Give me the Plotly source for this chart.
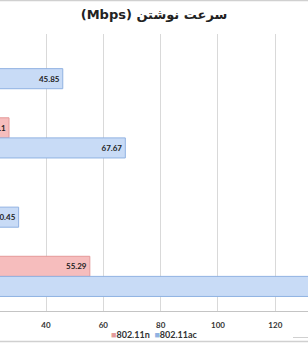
import plotly.graph_objects as go

# Data (category labels are off-screen to the left in the reference)
categories = ["A", "B", "C", "D"]
series_names = ["802.11n", "802.11ac"]
n_values = [20.1, 27.1, 15.3, 55.29]
ac_values = [45.85, 67.67, 30.45, 149.0]
x_ticks = [0, 20, 40, 60, 80, 100, 120, 140]
x_range = [23.95, 131.4]

red_fill = "#f6bdbd"
red_line = "#e49a9a"
blue_fill = "#c8dbf6"
blue_line = "#90b2e2"

FONT = "Lato, 'Liberation Sans', sans-serif"
label_font = dict(family=FONT, size=8, color="#1e1e1e")


def labels(values):
    # labels of bars that end outside the visible window are not drawn in the reference
    return [f"<b>{v:g}</b>" if x_range[0] < v < x_range[1] else "" for v in values]


fig = go.Figure()
fig.add_trace(go.Bar(
    y=categories, x=n_values, name=series_names[0], orientation="h",
    marker=dict(color=red_fill, line=dict(color=red_line, width=1)),
    text=labels(n_values), textposition="inside", insidetextanchor="end",
    textfont=label_font, showlegend=False,
))
fig.add_trace(go.Bar(
    y=categories, x=ac_values, name=series_names[1], orientation="h",
    marker=dict(color=blue_fill, line=dict(color=blue_line, width=1)),
    text=labels(ac_values), textposition="inside", insidetextanchor="end",
    textfont=label_font, showlegend=False,
))

legend_text = (
    f"<span style='color:{red_line}'>■</span><b>{series_names[0]}</b>"
    f"\u00a0\u00a0<span style='color:{blue_line}'>■</span><b>{series_names[1]}</b>"
)

fig.update_layout(
    width=308, height=344,
    margin=dict(l=0, r=0, t=34, b=33, pad=0),
    paper_bgcolor="white", plot_bgcolor="white",
    barmode="group", bargap=0.42, bargroupgap=0,
    uniformtext=dict(minsize=8, mode="show"),
    showlegend=False,
    title=dict(text="<b>(Mbps) سرعت نوشتن</b>", x=0.5, xanchor="center",
               y=1 - 14 / 344, yanchor="middle",
               font=dict(family="'DejaVu Sans', sans-serif", size=13, color="#222222")),
    xaxis=dict(range=x_range, tickvals=x_ticks,
               ticktext=[f"<b>{v}</b>" for v in x_ticks],
               showgrid=True, gridcolor="#d9d9d9", gridwidth=1,
               zeroline=False, showline=True, linecolor="#c4c4c4", linewidth=1,
               ticks="", ticklabelstandoff=6,
               tickfont=dict(family=FONT, size=8, color="#333333"),
               fixedrange=True),
    yaxis=dict(categoryorder="array", categoryarray=categories, autorange="reversed",
               showticklabels=False, showgrid=False, zeroline=False, showline=False,
               ticks=""),
    annotations=[
        dict(text=legend_text, xref="paper", yref="paper", x=0.5, y=-23.5 / 277,
             xanchor="center", yanchor="middle", showarrow=False,
             font=dict(family=FONT, size=9, color="#333333")),
    ],
    shapes=[
        dict(type="line", xref="paper", yref="paper", x0=0, x1=1, y0=1 + 33.5 / 277, y1=1 + 33.5 / 277,
             line=dict(color="#d0d0d0", width=1.5)),
        dict(type="line", xref="paper", yref="paper", x0=0, x1=1, y0=-30.5 / 277, y1=-30.5 / 277,
             line=dict(color="#d0d0d0", width=1.5)),
        dict(type="line", xref="paper", yref="paper", x0=293 / 308, x1=1, y0=-26.5 / 277, y1=-26.5 / 277,
             line=dict(color="#d0d0d0", width=1)),
    ],
)

fig.write_html("out.html")
